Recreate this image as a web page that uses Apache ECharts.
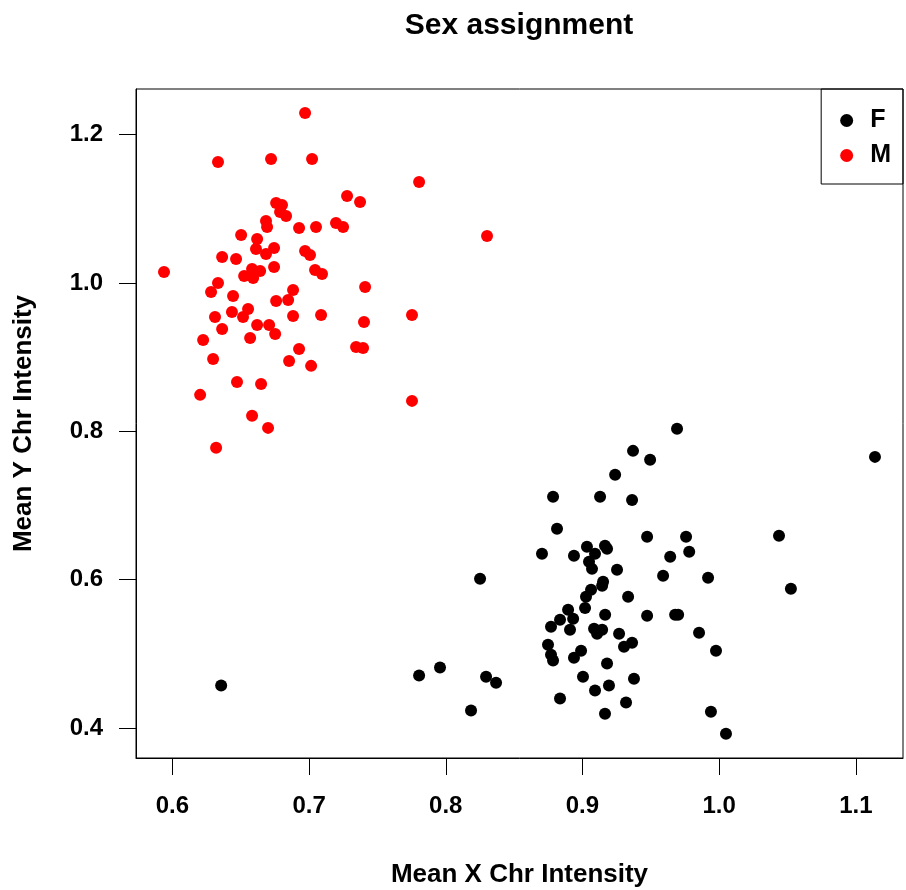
<!DOCTYPE html>
<html>
<head>
<meta charset="utf-8">
<script src="https://cdn.jsdelivr.net/npm/echarts@6/dist/echarts.min.js"></script>
<style>
html,body{margin:0;padding:0;background:#fff;}
#sex_chart{width:906px;height:890px;}
</style>
</head>
<body>
<div id="sex_chart"></div>
<script type="text/javascript">
// mean X / Y chr intensity per sample
var female_x = [0.9370,0.9495,0.9239,0.8785,0.9129,0.9363,0.8814,0.9473,0.8704,0.8938,
    0.9033,0.9092,0.9165,0.9180,0.9048,0.9070,0.9253,0.8251,0.9642,0.9781,
    0.9590,0.9919,0.9151,0.9144,0.9063,0.9026,0.9019,0.9334,0.8895,0.8836,
    0.8932,0.9166,0.9473,0.9678,0.9700,0.8770,0.8909,0.9085,0.9144,0.9107,
    0.9268,0.9853,0.8748,0.8990,0.8938,0.9304,0.9363,0.9977,0.8770,0.8785,
    0.9180,0.9004,0.9194,0.9377,0.9092,0.8836,0.9319,0.9165,0.9940,1.0050,
    0.9692,1.1140,0.9758,1.0438,1.0525,0.6357,0.7805,0.7958,0.8295,0.8368,0.8185];
var female_y = [0.7737,0.7616,0.7414,0.7117,0.7117,0.7076,0.6686,0.6578,0.6349,0.6322,
    0.6443,0.6349,0.6457,0.6416,0.6241,0.6146,0.6133,0.6012,0.6308,0.6376,
    0.6052,0.6025,0.5971,0.5917,0.5863,0.5769,0.5620,0.5769,0.5594,0.5459,
    0.5473,0.5526,0.5513,0.5526,0.5526,0.5365,0.5325,0.5338,0.5325,0.5271,
    0.5271,0.5284,0.5123,0.5042,0.4948,0.5096,0.5150,0.5042,0.4988,0.4909,
    0.4869,0.4693,0.4572,0.4666,0.4505,0.4397,0.4343,0.4193,0.4220,0.3923,
    0.8034,0.7656,0.6578,0.6592,0.5877,0.4572,0.4707,0.4815,0.4693,0.4612,0.4235];

var male_x = [0.6971,0.6334,0.6722,0.7022,0.7805,0.7278,0.7373,0.6759,0.6802,0.6788,
    0.6832,0.6685,0.6693,0.6927,0.7051,0.7197,0.7249,0.6503,0.6620,0.6612,
    0.6744,0.6685,0.6971,0.7007,0.6364,0.6466,0.5939,0.6583,0.6642,0.6525,
    0.6591,0.6744,0.7044,0.7095,0.6334,0.6283,0.6444,0.6883,0.7410,0.6759,
    0.6847,0.6312,0.6436,0.6554,0.6517,0.6883,0.7088,0.7402,0.7753,0.6364,
    0.6620,0.6708,0.6752,0.6569,0.6225,0.6927,0.7344,0.7395,0.6298,0.6854,
    0.7015,0.6473,0.6649,0.6203,0.7753,0.6583,0.6700,0.6320,0.8302];
var male_y = [1.2292,1.1632,1.1673,1.1673,1.1363,1.1174,1.1093,1.1079,1.1052,1.0958,
    1.0904,1.0837,1.0756,1.0743,1.0756,1.0810,1.0756,1.0648,1.0594,1.0460,
    1.0473,1.0392,1.0433,1.0379,1.0352,1.0325,1.0150,1.0190,1.0163,1.0096,
    1.0069,1.0217,1.0177,1.0123,1.0001,0.9880,0.9826,0.9907,0.9947,0.9759,
    0.9771,0.9543,0.9610,0.9651,0.9543,0.9556,0.9570,0.9476,0.9570,0.9381,
    0.9435,0.9435,0.9314,0.9260,0.9233,0.9112,0.9139,0.9125,0.8977,0.8950,
    0.8883,0.8667,0.8640,0.8492,0.8411,0.8209,0.8047,0.7778,1.0635];

var x_ticks = [0.6, 0.7, 0.8, 0.9, 1.0, 1.1];
var y_ticks = [0.4, 0.6, 0.8, 1.0, 1.2];
var groups = ['F', 'M'];

function zipXY(xs, ys){
    var out = [];
    for (var i = 0; i < xs.length; i++) {
        out.push([xs[i], ys[i]]);
    }
    return out;
}

var font = '"Liberation Sans", Arial, sans-serif';
var sex_obj = echarts.init(document.getElementById('sex_chart'), null, {renderer: 'canvas'});
var sex_option = {
    animation: false,
    backgroundColor: '#fff',
    title: {
        text: 'Sex assignment',
        left: 514,
        top: 6,
        textAlign: 'center',
        textStyle: {fontFamily: font, fontWeight: 'bold', fontSize: 30, color: '#000'}
    },
    legend: {
        data: groups,
        orient: 'vertical',
        right: 3,
        top: 89,
        padding: [19, 12, 16, 19],
        itemGap: 10,
        itemWidth: 13,
        itemHeight: 13,
        icon: 'circle',
        borderColor: '#000',
        borderWidth: 1,
        textStyle: {fontFamily: font, fontWeight: 'bold', fontSize: 25, color: '#000',
            lineHeight: 24, padding: [0, 0, 0, 12]}
    },
    grid: {
        left: 136,
        top: 89,
        right: 3,
        bottom: 132,
        show: true,
        borderColor: '#000',
        borderWidth: 1,
        outerBoundsMode: 'none'
    },
    xAxis: {
        type: 'value',
        min: 0.5734,
        max: 1.1345,
        name: 'Mean X Chr Intensity',
        nameLocation: 'middle',
        nameGap: 104,
        nameTextStyle: {fontFamily: font, fontWeight: 'bold', fontSize: 26, color: '#000'},
        axisLine: {show: true, onZero: false, lineStyle: {color: '#000', width: 1}},
        axisTick: {show: true, length: 17, inside: false, customValues: x_ticks,
            lineStyle: {color: '#000', width: 1}},
        axisLabel: {
            customValues: x_ticks,
            margin: 36,
            fontFamily: font, fontWeight: 'bold', fontSize: 24, color: '#000',
            formatter: function(v){ return v.toFixed(1); }
        },
        splitLine: {show: false}
    },
    yAxis: {
        type: 'value',
        min: 0.3596,
        max: 1.2616,
        name: 'Mean Y Chr Intensity',
        nameLocation: 'middle',
        nameGap: 99,
        nameTextStyle: {fontFamily: font, fontWeight: 'bold', fontSize: 26, color: '#000'},
        axisLine: {show: true, onZero: false, lineStyle: {color: '#000', width: 1}},
        axisTick: {show: true, length: 17, inside: false, customValues: y_ticks,
            lineStyle: {color: '#000', width: 1}},
        axisLabel: {
            customValues: y_ticks,
            margin: 33,
            fontFamily: font, fontWeight: 'bold', fontSize: 24, color: '#000',
            formatter: function(v){ return v.toFixed(1); }
        },
        splitLine: {show: false}
    },
    series: [
        {
            name: 'F',
            type: 'scatter',
            symbol: 'circle',
            symbolSize: 12,
            itemStyle: {color: '#000', opacity: 1},
            data: zipXY(female_x, female_y)
        },
        {
            name: 'M',
            type: 'scatter',
            symbol: 'circle',
            symbolSize: 12,
            itemStyle: {color: '#ff0000', opacity: 1},
            data: zipXY(male_x, male_y)
        }
    ]
};
sex_obj.setOption(sex_option);
</script>
</body>
</html>
